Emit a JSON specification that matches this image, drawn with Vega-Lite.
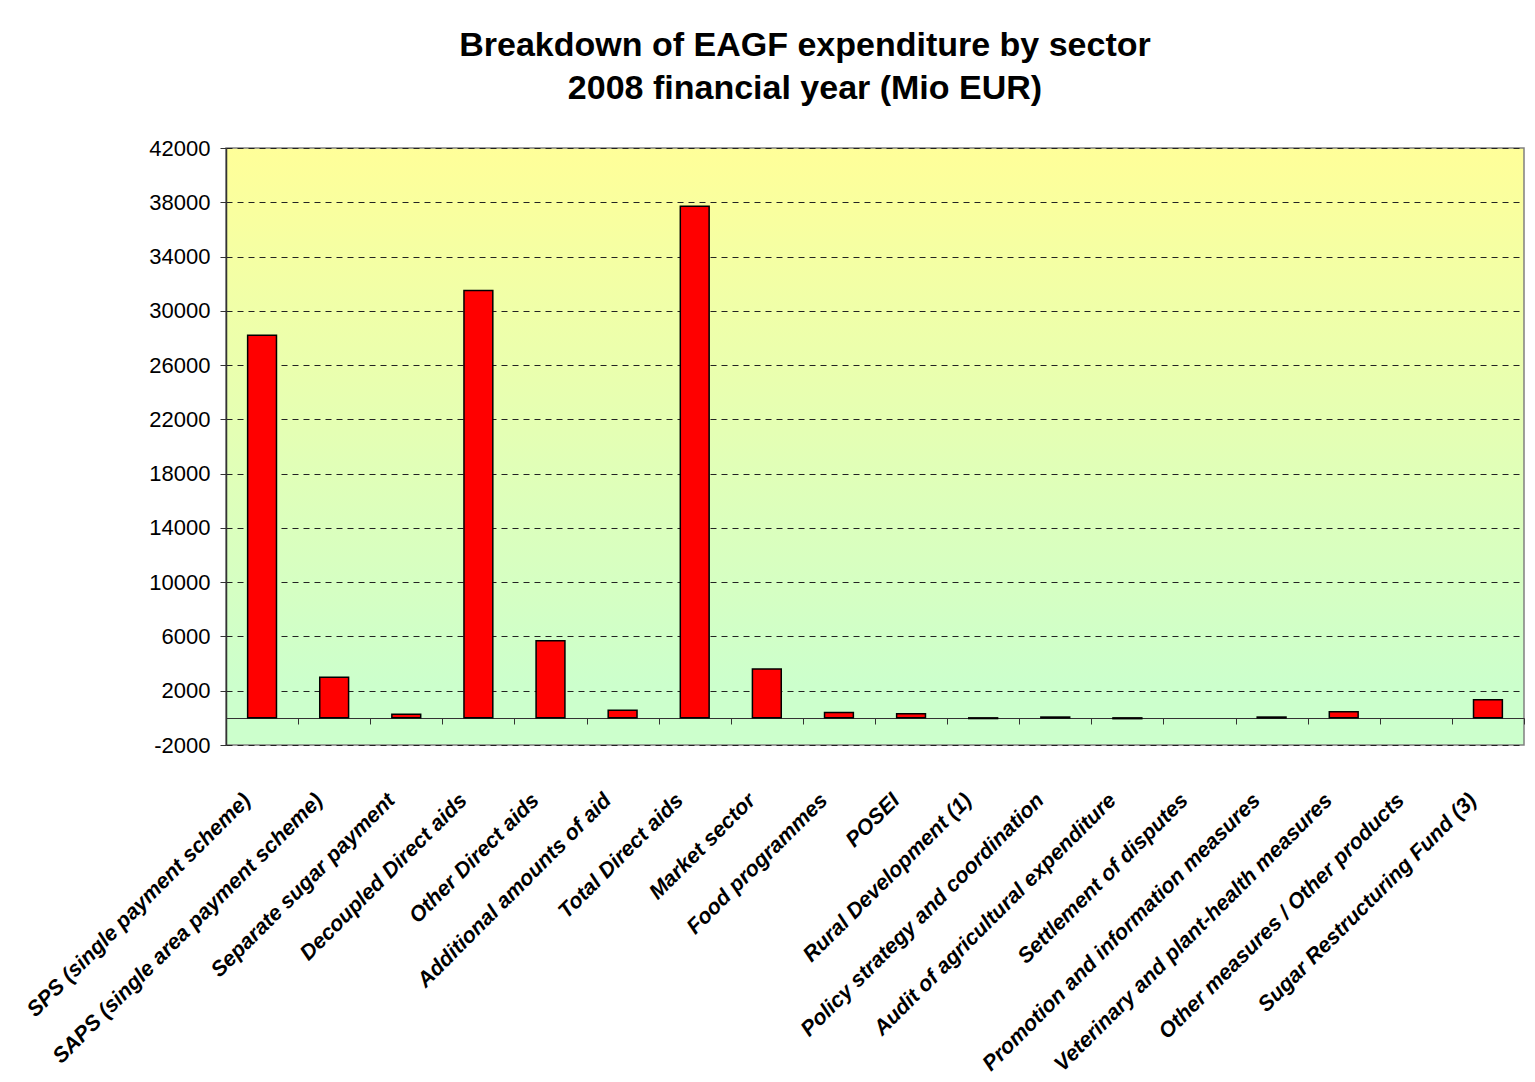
{
  "$schema": "https://vega.github.io/schema/vega-lite/v6.json",
  "width": 1298,
  "height": 597,
  "autosize": {"type": "none"},
  "padding": {"left": 226, "top": 148, "right": 11, "bottom": 337},
  "background": "white",
  "title": {
    "text": ["Breakdown of EAGF expenditure by sector", "2008 financial year (Mio EUR)"],
    "font": "Liberation Sans",
    "fontSize": 34,
    "fontWeight": "bold",
    "lineHeight": 43,
    "color": "black",
    "anchor": "middle",
    "frame": "group",
    "dx": -70,
    "offset": 31
  },
  "data": {
    "values": [
      {"sector": "SPS (single payment scheme)", "value": 28200},
      {"sector": "SAPS (single area payment scheme)", "value": 3000},
      {"sector": "Separate sugar payment", "value": 270},
      {"sector": "Decoupled Direct aids", "value": 31500},
      {"sector": "Other Direct aids", "value": 5680},
      {"sector": "Additional amounts of aid", "value": 570},
      {"sector": "Total Direct aids", "value": 37700},
      {"sector": "Market sector", "value": 3600},
      {"sector": "Food programmes", "value": 390},
      {"sector": "POSEI", "value": 300},
      {"sector": "Rural Development (1)", "value": -50},
      {"sector": "Policy strategy and coordination", "value": 60},
      {"sector": "Audit of agricultural expenditure", "value": -60},
      {"sector": "Settlement of disputes", "value": 0},
      {"sector": "Promotion and information measures", "value": 60},
      {"sector": "Veterinary and plant-health measures", "value": 450},
      {"sector": "Other measures / Other products", "value": 0},
      {"sector": "Sugar Restructuring Fund  (3)", "value": 1330}
    ]
  },
  "mark": {
    "type": "bar",
    "fill": "#FF0000",
    "stroke": "black",
    "strokeWidth": 1.5,
    "width": {"band": 0.4}
  },
  "encoding": {
    "x": {
      "field": "sector",
      "type": "nominal",
      "sort": null,
      "scale": {"paddingInner": 0, "paddingOuter": 0},
      "axis": {
        "title": null,
        "offset": -27,
        "tickBand": "extent",
        "domainColor": "#333333",
        "domainWidth": 1,
        "tickColor": "#333333",
        "tickSize": 6,
        "labelAngle": -45,
        "labelAlign": "right",
        "labelBaseline": "middle",
        "labelPadding": 73,
        "labelOffset": -15,
        "labelFont": "Liberation Sans",
        "labelFontSize": 21.5,
        "labelFontWeight": "bold",
        "labelFontStyle": "italic",
        "labelColor": "black",
        "labelLimit": 500,
        "labelOverlap": false,
        "grid": false
      }
    },
    "y": {
      "field": "value",
      "type": "quantitative",
      "scale": {"domain": [-2000, 42000], "nice": false, "zero": false},
      "axis": {
        "title": null,
        "values": [-2000, 2000, 6000, 10000, 14000, 18000, 22000, 26000, 30000, 34000, 38000, 42000],
        "labelExpr": "'' + datum.value",
        "labelFont": "Liberation Sans",
        "labelFontSize": 22,
        "labelColor": "black",
        "labelPadding": 10,
        "tickColor": "#333333",
        "tickSize": 6,
        "domainColor": "#333333",
        "domainWidth": 1.5,
        "grid": true,
        "gridColor": "#222222",
        "gridDash": [6, 5],
        "gridWidth": 1
      }
    },
    "strokeOpacity": {
      "condition": {"test": "datum.value == 0", "value": 0},
      "value": 1
    }
  },
  "config": {
    "view": {
      "stroke": "#808080",
      "strokeWidth": 1.5,
      "fill": {
        "gradient": "linear",
        "x1": 0, "y1": 0, "x2": 0, "y2": 1,
        "stops": [
          {"offset": 0, "color": "#FFFF99"},
          {"offset": 0.9, "color": "#CCFFCC"},
          {"offset": 1, "color": "#CCFFCC"}
        ]
      }
    }
  }
}
